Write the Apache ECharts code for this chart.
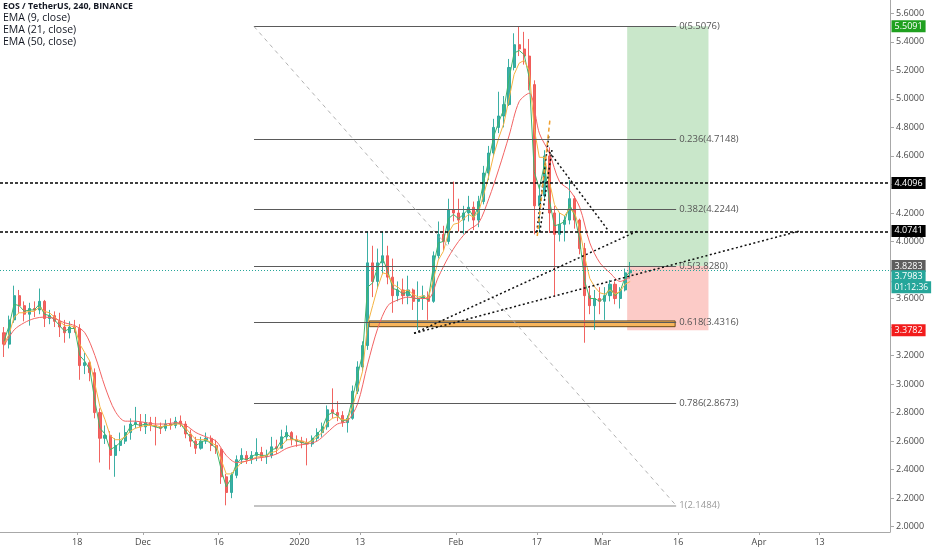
<!DOCTYPE html>
<html><head><meta charset="utf-8">
<script src="https://cdn.jsdelivr.net/npm/echarts@6/dist/echarts.min.js"></script>
<style>html,body{margin:0;padding:0;background:#fff}#c{width:932px;height:550px}</style>
</head><body><div id="c"></div>
<script>
// ---------- data (day index 0 = 3 Nov 2019) ----------
const dayTicks = [15, 28, 43, 59, 71, 90, 106, 119, 134, 150, 162];
const dayTickLabels = ['18', 'Dec', '16', '2020', '13', 'Feb', '17', 'Mar', '16', 'Apr', '13'];
const priceTicks = [2.0, 2.2, 2.4, 2.6, 2.8, 3.0, 3.2, 3.4, 3.6, 3.8, 4.0, 4.2, 4.4, 4.6, 4.8, 5.0, 5.2, 5.4, 5.6];
const priceTickLabels = [2.0, 2.2, 2.4, 2.6, 2.8, 3.0, 3.2, 3.6, 4.0, 4.2, 4.6, 4.8, 5.0, 5.2, 5.4, 5.6];

const candleOpen = [3.36,3.28,3.45,3.62,3.55,3.49,3.53,3.52,3.58,3.46,
3.48,3.44,3.40,3.36,3.40,3.39,3.13,3.15,3.08,2.80,
2.62,2.64,2.50,2.57,2.60,2.66,2.72,2.73,2.70,2.73,
2.71,2.70,2.69,2.72,2.71,2.74,2.72,2.65,2.60,2.55,
2.60,2.62,2.57,2.54,2.35,2.24,2.36,2.47,2.50,2.47,
2.50,2.52,2.49,2.50,2.56,2.55,2.63,2.66,2.61,2.60,
2.59,2.58,2.62,2.66,2.70,2.82,2.80,2.78,2.73,2.76,
2.95,3.12,3.27,3.85,3.72,3.85,3.90,3.75,3.62,3.66,
3.62,3.66,3.58,3.60,3.62,3.58,3.90,4.05,4.00,4.22,
4.20,4.15,4.20,4.24,4.15,4.28,4.48,4.62,4.80,4.88,
4.96,5.22,5.38,5.35,5.30,5.10,4.25,4.32,4.60,4.20,
4.05,4.12,4.15,4.30,4.15,3.95,3.62,3.55,3.60,3.58,
3.62,3.70,3.60,3.66,3.78];
const candleClose = [3.28,3.45,3.62,3.55,3.49,3.53,3.52,3.58,3.46,3.48,
3.44,3.40,3.36,3.40,3.39,3.13,3.15,3.08,2.80,2.62,
2.64,2.50,2.57,2.60,2.66,2.72,2.73,2.70,2.73,2.71,
2.70,2.69,2.72,2.71,2.74,2.72,2.65,2.60,2.55,2.60,
2.62,2.57,2.54,2.35,2.24,2.36,2.47,2.50,2.47,2.50,
2.52,2.49,2.50,2.56,2.55,2.63,2.66,2.61,2.60,2.59,
2.58,2.62,2.66,2.70,2.82,2.80,2.78,2.73,2.76,2.95,
3.12,3.27,3.85,3.72,3.85,3.90,3.75,3.62,3.66,3.62,
3.66,3.58,3.60,3.62,3.58,3.90,4.05,4.00,4.22,4.20,
4.15,4.20,4.24,4.15,4.28,4.48,4.62,4.80,4.88,4.96,
5.22,5.38,5.35,5.30,5.10,4.25,4.32,4.60,4.20,4.05,
4.12,4.15,4.30,4.15,3.95,3.62,3.55,3.60,3.58,3.62,
3.70,3.60,3.66,3.78,3.7983];
const candleLow = [3.19,3.25,3.43,3.50,3.44,3.41,3.47,3.49,3.40,3.42,
3.40,3.33,3.29,3.32,3.36,3.03,3.07,3.02,2.76,2.45,
2.58,2.40,2.35,2.53,2.58,2.61,2.69,2.67,2.65,2.67,
2.57,2.65,2.67,2.68,2.69,2.70,2.62,2.56,2.51,2.54,
2.58,2.53,2.51,2.30,2.15,2.20,2.34,2.44,2.44,2.44,
2.46,2.46,2.44,2.48,2.51,2.55,2.60,2.57,2.56,2.55,
2.43,2.56,2.60,2.63,2.68,2.76,2.74,2.70,2.66,2.75,
2.93,3.09,3.24,3.61,3.67,3.77,3.70,3.50,3.58,3.56,
3.56,3.52,3.38,3.52,3.45,3.57,3.88,3.94,3.98,4.14,
4.07,4.05,4.14,4.08,4.10,4.26,4.43,4.60,4.76,4.80,
4.95,5.20,5.30,5.24,5.06,4.05,4.06,4.30,4.06,3.61,
4.00,4.00,4.12,4.09,3.91,3.29,3.49,3.38,3.49,3.45,
3.58,3.56,3.53,3.65,3.74];
const candleHigh = [3.40,3.48,3.69,3.66,3.58,3.57,3.58,3.67,3.59,3.52,
3.51,3.50,3.45,3.44,3.45,3.42,3.22,3.16,3.11,2.83,
2.71,2.67,2.62,2.66,2.71,2.76,2.84,2.79,2.79,2.77,
2.77,2.73,2.75,2.76,2.77,2.78,2.74,2.68,2.63,2.63,
2.66,2.64,2.61,2.55,2.37,2.38,2.50,2.55,2.53,2.53,
2.62,2.56,2.54,2.63,2.61,2.68,2.71,2.67,2.64,2.63,
2.62,2.64,2.69,2.73,2.85,2.97,2.88,2.81,2.78,2.99,
3.16,3.30,4.07,3.97,3.95,4.07,3.97,3.88,3.72,3.74,
3.76,3.67,3.72,3.69,3.65,3.93,4.14,4.11,4.30,4.42,
4.30,4.25,4.32,4.28,4.32,4.53,4.67,4.86,5.05,5.02,
5.28,5.46,5.507,5.47,5.42,5.13,4.40,4.64,4.66,4.25,
4.20,4.18,4.43,4.32,4.16,3.99,3.69,3.66,3.68,3.68,
3.73,3.72,3.68,3.81,3.856];

const ema9 = [3.30,3.41,3.56,3.55,3.51,3.52,3.52,3.56,3.49,3.48,
3.45,3.41,3.37,3.39,3.39,3.20,3.16,3.10,2.88,2.69,
2.65,2.54,2.56,2.59,2.64,2.70,2.72,2.71,2.72,2.71,
2.70,2.69,2.71,2.71,2.73,2.72,2.67,2.62,2.57,2.59,
2.61,2.58,2.55,2.40,2.28,2.34,2.44,2.48,2.47,2.49,
2.51,2.50,2.50,2.54,2.55,2.61,2.65,2.62,2.60,2.59,
2.58,2.61,2.65,2.69,2.78,2.80,2.78,2.74,2.75,2.90,
3.06,3.21,3.68,3.71,3.82,3.88,3.79,3.67,3.66,3.63,
3.65,3.60,3.60,3.61,3.59,3.82,3.99,4.00,4.16,4.19,
4.16,4.19,4.23,4.17,4.25,4.42,4.57,4.74,4.84,4.93,
5.14,5.32,5.34,5.31,5.15,4.49,4.37,4.54,4.29,4.11,
4.12,4.14,4.26,4.18,4.01,3.72,3.60,3.60,3.58,3.61,
3.68,3.62,3.65,3.75,3.79];
const ema21 = [3.28,3.35,3.47,3.50,3.50,3.51,3.51,3.54,3.51,3.50,
3.47,3.44,3.41,3.41,3.40,3.28,3.22,3.16,3.00,2.84,
2.75,2.64,2.61,2.61,2.63,2.67,2.69,2.70,2.71,2.71,
2.71,2.70,2.71,2.71,2.72,2.72,2.69,2.65,2.61,2.61,
2.61,2.59,2.57,2.47,2.37,2.37,2.41,2.45,2.46,2.47,
2.49,2.49,2.50,2.52,2.53,2.57,2.61,2.61,2.61,2.60,
2.59,2.60,2.63,2.66,2.73,2.76,2.77,2.75,2.75,2.84,
2.96,3.09,3.42,3.55,3.68,3.78,3.77,3.70,3.68,3.65,
3.66,3.63,3.61,3.62,3.60,3.73,3.87,3.93,4.06,4.12,
4.13,4.16,4.19,4.17,4.21,4.33,4.46,4.61,4.73,4.83,
5.00,5.17,5.25,5.27,5.20,4.79,4.59,4.59,4.42,4.26,
4.20,4.18,4.23,4.20,4.09,3.89,3.74,3.68,3.64,3.63,
3.66,3.63,3.65,3.70,3.72];
// EMA 50, one reading every second day
const ema50 = [3.27,3.38,3.43,3.46,3.47,3.46,3.43,3.41,3.36,3.20,
2.98,2.81,2.74,2.74,2.73,2.72,2.72,2.73,2.71,2.66,
2.63,2.60,2.50,2.45,2.46,2.48,2.49,2.51,2.55,2.57,
2.58,2.60,2.66,2.72,2.74,2.86,3.14,3.39,3.55,3.59,
3.61,3.60,3.60,3.75,3.89,4.00,4.08,4.13,4.30,4.51,
4.74,4.98,5.04,4.76,4.62,4.42,4.36,4.24,3.99,3.85,
3.78,3.72,3.75];

const fibLevels = [0, 0.236, 0.382, 0.5, 0.618, 0.786, 1];
const fibPrices = [5.5076, 4.7148, 4.2244, 3.8280, 3.4316, 2.8673, 2.1484];
const fibStartDay = 50.0, fibEndDay = 133.6;
const keyLevels = [4.4096, 4.0741];
const lastPrice = 3.7983;
const countdownText = '01:12:36';
const longStartDay = 123.9, longEndDay = 140.0;
const longTarget = 5.5091, longEntry = 3.8283, longStop = 3.3782;
const zoneStartDay = 72.8, zoneEndDay = 133.4, zoneLow = 3.4025, zoneHigh = 3.4430;
const trendLines = [
  [[81.7, 3.356], [126.0, 4.0741]],
  [[81.7, 3.356], [158.1, 4.0741]],
  [[108.5, 4.6275], [120.1, 4.08]],
  [[106.0, 4.0665], [108.4, 4.7467]],
  [[106.6, 4.0665], [109.0, 4.6415]]
];
const flagLine = [[106.1, 4.0384], [108.6, 4.8519]];

// ---------- chart ----------
const FONT = "'Open Sans', 'Liberation Sans', sans-serif";
const X_MIN = -0.3, X_MAX = 175.95;
const chart = echarts.init(document.getElementById('c'));

const candles = candleOpen.map((o, i) => [i + 0.5, o, candleClose[i], candleLow[i], candleHigh[i]]);

function tag(value, text, bg, offsetY, size) {
  return {
    coord: [X_MAX, value],
    label: {
      show: true, position: 'right', distance: 1, formatter: text,
      backgroundColor: bg, color: '#fff', fontSize: size || 9, fontFamily: FONT,
      padding: [2, 3, 1, 3], offset: [0, offsetY || 0]
    }
  };
}

const fibData = fibLevels.map((lv, i) => {
  const light = lv === 1;
  return [
    {
      coord: [fibStartDay, fibPrices[i]],
      lineStyle: { color: light ? '#c4c4c4' : '#5a5a5a', width: light ? 2 : 1.2, type: 'solid' },
      label: {
        show: true, position: 'end', distance: 3,
        formatter: lv + '(' + fibPrices[i].toFixed(4) + ')',
        color: light ? '#9a9a9a' : '#555', fontSize: 9.5, fontFamily: FONT
      }
    },
    { coord: [fibEndDay, fibPrices[i]] }
  ];
});

const dotted = { color: '#111', width: 1.5, type: [2, 2.5] };
const legendStyle = { fontSize: 10.5, fontWeight: 'normal', color: '#131722', fontFamily: FONT };

const option = {
  animation: false,
  textStyle: { fontFamily: FONT },
  title: [
    { text: 'EOS / TetherUS, 240, BINANCE', left: 3, top: 2, padding: 0,
      textStyle: { fontSize: 8.8, fontWeight: 'bold', color: '#131722', fontFamily: FONT } },
    { text: 'EMA (9, close)', left: 3, top: 13, padding: 0, textStyle: legendStyle },
    { text: 'EMA (21, close)', left: 3, top: 25, padding: 0, textStyle: legendStyle },
    { text: 'EMA (50, close)', left: 3, top: 37, padding: 0, textStyle: legendStyle }
  ],
  grid: { left: 0, right: 42, top: 0, bottom: 18, containLabel: false },
  xAxis: {
    type: 'value', min: X_MIN, max: X_MAX,
    axisLine: { onZero: false, lineStyle: { color: '#a8a8a8', width: 1 } },
    axisTick: { show: true, customValues: dayTicks, length: 3, lineStyle: { color: '#a8a8a8' } },
    axisLabel: {
      customValues: dayTicks, margin: 6, fontSize: 9, color: '#4a4a4a', fontFamily: FONT,
      formatter: v => { const k = dayTicks.indexOf(Math.round(v)); return k >= 0 ? dayTickLabels[k] : ''; }
    },
    splitLine: { show: false }
  },
  yAxis: {
    type: 'value', position: 'right', min: 1.9628, max: 5.6933, scale: true,
    axisLine: { show: true, onZero: false, lineStyle: { color: '#a8a8a8', width: 1 } },
    axisTick: { show: true, customValues: priceTicks, length: 4, lineStyle: { color: '#a8a8a8' } },
    axisLabel: {
      customValues: priceTickLabels, margin: 6, fontSize: 9, color: '#4a4a4a', fontFamily: FONT,
      formatter: v => v.toFixed(4)
    },
    splitLine: { show: false }
  },
  series: [
    {
      name: 'long position', type: 'line', data: [], z: 1, silent: true,
      markArea: {
        silent: true,
        data: [
          [{ coord: [longStartDay, longTarget], itemStyle: { color: 'rgba(76,175,80,0.3)' } }, { coord: [longEndDay, longEntry] }],
          [{ coord: [longStartDay, longEntry], itemStyle: { color: 'rgba(244,67,54,0.28)' } }, { coord: [longEndDay, longStop] }]
        ]
      }
    },
    {
      name: 'EOS/USDT', type: 'candlestick', z: 2, barWidth: 2.6,
      encode: { x: 0, y: [1, 2, 3, 4] },
      data: candles,
      itemStyle: { color: '#26a69a', color0: '#ef5350', borderColor: '#26a69a', borderColor0: '#ef5350', borderWidth: 1, opacity: 0.9 }
    },
    {
      name: 'EMA 9', type: 'line', z: 3, showSymbol: false, silent: true,
      data: ema9.map((v, i) => [i + 0.5, v]),
      lineStyle: { color: '#3fb56a', width: 1 }
    },
    {
      name: 'EMA 21', type: 'line', z: 3, showSymbol: false, silent: true,
      data: ema21.map((v, i) => [i + 0.5, v]),
      lineStyle: { color: '#f5b342', width: 1 }
    },
    {
      name: 'EMA 50', type: 'line', z: 3, showSymbol: false, silent: true, smooth: 0.3,
      data: ema50.map((v, i) => [i * 2 + 0.5, v]),
      lineStyle: { color: '#f26363', width: 1 }
    },
    {
      name: 'drawings', type: 'line', data: [], z: 4, silent: true,
      markArea: {
        silent: true,
        data: [
          [{ coord: [zoneStartDay, zoneHigh], itemStyle: { color: '#f7b55c', borderColor: '#6b4a1a', borderWidth: 1 } },
           { coord: [zoneEndDay, zoneLow] }]
        ]
      },
      markLine: {
        silent: true, symbol: ['none', 'none'], animation: false,
        label: { show: false },
        data: [
          ...fibData,
          [{ coord: [fibStartDay, fibPrices[0]], lineStyle: { color: '#b0b0b0', width: 1, type: [4, 4] } },
           { coord: [fibEndDay, fibPrices[6]] }],
          ...keyLevels.map(p => ({ yAxis: p, lineStyle: { color: '#000', width: 1.5, type: [3, 2] } })),
          { yAxis: lastPrice, lineStyle: { color: '#26a69a', width: 1, type: [1, 2] } },
          ...trendLines.map(t => [{ coord: t[0], lineStyle: dotted }, { coord: t[1] }]),
          [{ coord: flagLine[0], lineStyle: { color: '#f0a030', width: 1.5, type: [4, 3] } }, { coord: flagLine[1] }]
        ]
      }
    },
    {
      name: 'price tags', type: 'line', data: [], z: 6, silent: true,
      markPoint: {
        silent: true, symbol: 'rect', symbolSize: 1, itemStyle: { color: 'rgba(0,0,0,0)' },
        animation: false,
        data: [
          tag(longTarget, longTarget.toFixed(4), '#1fa01f'),
          tag(keyLevels[0], keyLevels[0].toFixed(4), '#000'),
          tag(keyLevels[1], keyLevels[1].toFixed(4), '#000'),
          tag(longEntry, longEntry.toFixed(4), '#5d5d5d'),
          tag(lastPrice, lastPrice.toFixed(4), '#26a69a', 6),
          tag(lastPrice, countdownText, '#26a69a', 17, 8.5),
          tag(longStop, longStop.toFixed(4), '#f21c1c')
        ]
      }
    }
  ]
};
chart.setOption(option);
</script>
</body></html>
